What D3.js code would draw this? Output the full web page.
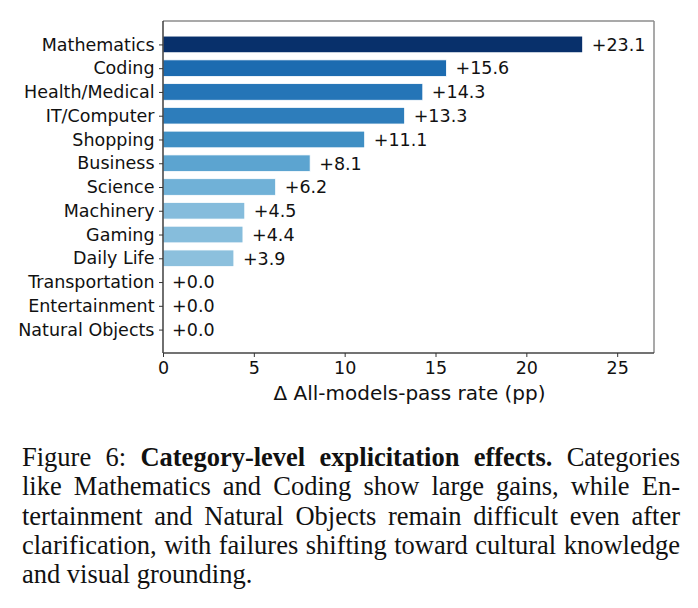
<!DOCTYPE html>
<html>
<head>
<meta charset="utf-8">
<script src="https://cdn.jsdelivr.net/npm/d3@7"></script>
<style>
  html, body { margin: 0; padding: 0; background: #fff; }
  svg { display: block; }
</style>
</head>
<body>
<div id="chart"></div>
<script>
// Category-level gains (percentage points), top to bottom
const categories = [
    'Mathematics', 'Coding', 'Health/Medical', 'IT/Computer', 'Shopping',
    'Business', 'Science', 'Machinery', 'Gaming', 'Daily Life',
    'Transportation', 'Entertainment', 'Natural Objects'
];
const gains = [23.1, 15.6, 14.3, 13.3, 11.1, 8.1, 6.2, 4.5, 4.4, 3.9, 0.0, 0.0, 0.0];
const xTicks = [0, 5, 10, 15, 20, 25];
const xLabel = '\u0394 All-models-pass rate (pp)';

// Caption, already broken into lines as in the figure
const captionLines = [
    [['Figure 6: ', false], ['Category-level explicitation effects.', true], [' Categories', false]],
    [['like Mathematics and Coding show large gains, while En-', false]],
    [['tertainment and Natural Objects remain difficult even after', false]],
    [['clarification, with failures shifting toward cultural knowledge', false]],
    [['and visual grounding.', false]]
];

const W = 698, H = 608;
const margin = { left: 163, right: 654, top: 21, bottom: 353 };
const fontSans = '"DejaVu Sans", sans-serif';
const fontSize = 17.5;

const svg = d3.select('#chart').append('svg')
    .attr('width', W)
    .attr('height', H);

const maxGain = d3.max(gains);
const x = d3.scaleLinear()
    .domain([0, maxGain * 1.17])
    .range([margin.left, margin.right]);

// matplotlib-style barh: bars at 0..n-1, height 0.7, 5% margins
const n = categories.length;
const pad = 0.35 + 0.05 * (n - 1 + 0.7);
const y = d3.scaleLinear()
    .domain([-pad, n - 1 + pad])
    .range([margin.top, margin.bottom]);
const barH = y(0.7) - y(0);

const blues = d3.piecewise(d3.interpolateRgb, d3.schemeBlues[9]);
const color = v => blues(0.3 + 0.7 * v / maxGain);

const data = categories.map((c, i) => ({ name: c, value: gains[i], idx: i }));

// Bars
svg.append('g')
    .selectAll('rect')
    .data(data.filter(d => d.value > 0))
    .enter().append('rect')
    .attr('x', x(0))
    .attr('y', d => y(d.idx) - barH / 2)
    .attr('width', d => x(d.value) - x(0))
    .attr('height', barH)
    .attr('fill', d => color(d.value))
    .attr('stroke', '#fff')
    .attr('stroke-width', 0.8);

// Value labels
svg.append('g')
    .selectAll('text')
    .data(data)
    .enter().append('text')
    .attr('x', d => x(d.value + 0.5))
    .attr('y', d => y(d.idx))
    .attr('dy', '0.36em')
    .attr('font-family', fontSans)
    .attr('font-size', fontSize)
    .attr('fill', '#111')
    .text(d => '+' + d.value.toFixed(1));

// Frame: light top/right, darker left/bottom
svg.append('line')
    .attr('x1', margin.left).attr('x2', margin.right)
    .attr('y1', margin.top).attr('y2', margin.top)
    .attr('stroke', '#8c8c8c').attr('stroke-width', 1.5);
svg.append('line')
    .attr('x1', margin.right).attr('x2', margin.right)
    .attr('y1', margin.top).attr('y2', margin.bottom)
    .attr('stroke', '#8c8c8c').attr('stroke-width', 1.5);

// Y axis
const yAxis = svg.append('g')
    .attr('transform', `translate(${margin.left},0)`)
    .call(d3.axisLeft(y)
        .tickValues(d3.range(n))
        .tickFormat(i => categories[i])
        .tickSize(4)
        .tickPadding(4.5));
yAxis.select('.domain').attr('stroke', '#333').attr('stroke-width', 1.4)
    .attr('d', `M0,${margin.top}V${margin.bottom}`);
yAxis.selectAll('.tick line').attr('stroke', '#333');
yAxis.selectAll('.tick text')
    .attr('font-family', fontSans)
    .attr('font-size', fontSize)
    .attr('fill', '#111');

// X axis
const xAxis = svg.append('g')
    .attr('transform', `translate(0,${margin.bottom})`)
    .call(d3.axisBottom(x)
        .tickValues(xTicks)
        .tickFormat(d3.format('d'))
        .tickSize(4)
        .tickPadding(5));
xAxis.select('.domain').attr('stroke', '#444').attr('stroke-width', 1.4)
    .attr('d', `M${margin.left},0H${margin.right}`);
xAxis.selectAll('.tick line').attr('stroke', '#333');
xAxis.selectAll('.tick text')
    .attr('font-family', fontSans)
    .attr('font-size', fontSize)
    .attr('fill', '#111');

svg.append('text')
    .attr('x', (margin.left + margin.right) / 2 + 1)
    .attr('y', 400)
    .attr('text-anchor', 'middle')
    .attr('font-family', fontSans)
    .attr('font-size', 20)
    .attr('fill', '#111')
    .text(xLabel);

// Caption, justified word by word (last line left-aligned)
const capLeft = 22, capRight = 680, capTop = 466, capStep = 29.3;
const capFont = '"Liberation Serif", "Times New Roman", serif';
const cap = svg.append('g').attr('font-family', capFont).attr('font-size', 26.5).attr('fill', '#111');

captionLines.forEach((segs, li) => {
    // split into words keeping bold flag
    const words = [];
    segs.forEach(([txt, bold]) => {
        txt.split(' ').filter(w => w.length).forEach(w => words.push({ w, bold }));
    });
    const base = capTop + li * capStep;
    const nodes = words.map(wd => cap.append('text')
        .attr('y', base)
        .attr('font-weight', wd.bold ? 'bold' : 'normal')
        .text(wd.w));
    const widths = nodes.map(t => t.node().getComputedTextLength());
    const total = d3.sum(widths);
    const last = li === captionLines.length - 1;
    const gap = last ? 6.6 : (capRight - capLeft - total) / (words.length - 1);
    let cx = capLeft;
    nodes.forEach((t, i) => {
        t.attr('x', cx);
        cx += widths[i] + gap;
    });
});
</script>
</body>
</html>
